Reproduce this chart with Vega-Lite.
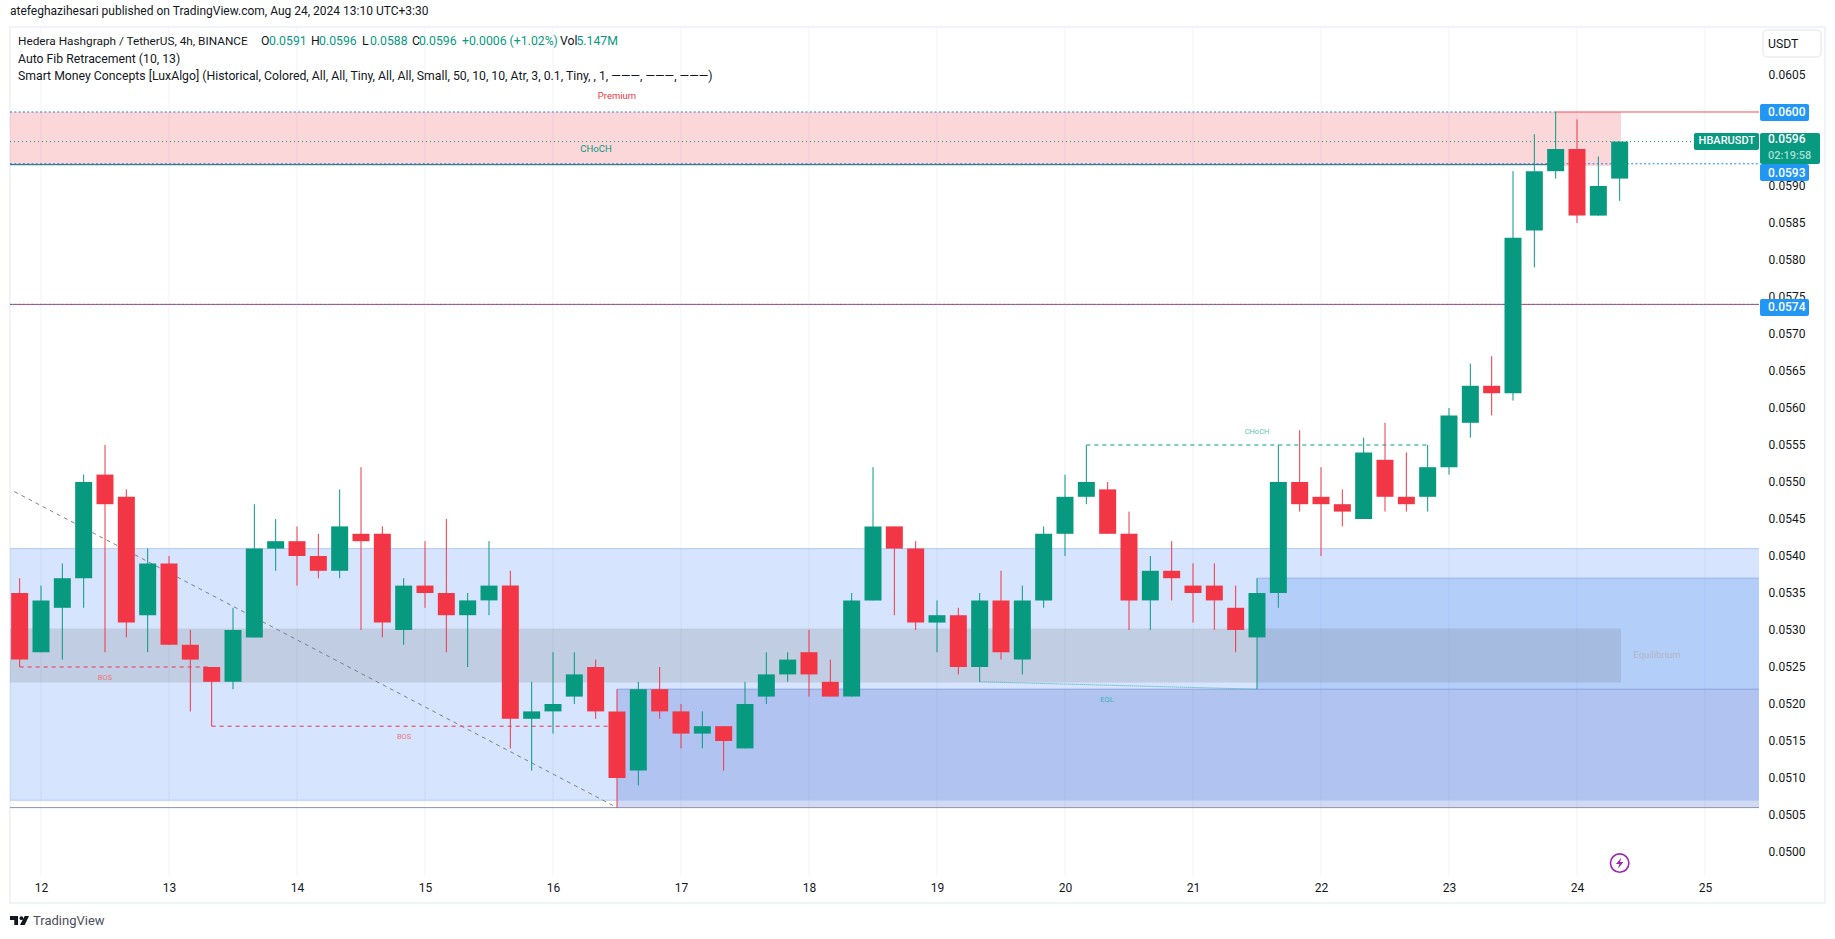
{
"$schema":"https://vega.github.io/schema/vega-lite/v6.json",
"width":1815,"height":876,"autosize":"none",
"padding":{"left":10,"top":27,"right":10,"bottom":36},
"background":"#ffffff",
"view":{"stroke":"#f0f3fa","strokeWidth":2},
"title":{"text":"atefeghazihesari published on TradingView.com, Aug 24, 2024 13:10 UTC+3:30","anchor":"start","frame":"group","offset":9,"font":"Roboto","fontSize":12,"fontWeight":"normal","color":"#131722"},
"config":{"font":"Roboto","text":{"font":"Roboto"}},
"datasets":{
"candles":[
{"t":"2024-08-11T20:00:00Z","o":0.0535,"h":0.0537,"l":0.0525,"c":0.0526},
{"t":"2024-08-12T00:00:00Z","o":0.0527,"h":0.0536,"l":0.0527,"c":0.0534},
{"t":"2024-08-12T04:00:00Z","o":0.0533,"h":0.0539,"l":0.0526,"c":0.0537},
{"t":"2024-08-12T08:00:00Z","o":0.0537,"h":0.0551,"l":0.0533,"c":0.0550},
{"t":"2024-08-12T12:00:00Z","o":0.0551,"h":0.0555,"l":0.0527,"c":0.0547},
{"t":"2024-08-12T16:00:00Z","o":0.0548,"h":0.0549,"l":0.0529,"c":0.0531},
{"t":"2024-08-12T20:00:00Z","o":0.0532,"h":0.0541,"l":0.0527,"c":0.0539},
{"t":"2024-08-13T00:00:00Z","o":0.0539,"h":0.0540,"l":0.0528,"c":0.0528},
{"t":"2024-08-13T04:00:00Z","o":0.0528,"h":0.0530,"l":0.0519,"c":0.0526},
{"t":"2024-08-13T08:00:00Z","o":0.0525,"h":0.0525,"l":0.0517,"c":0.0523},
{"t":"2024-08-13T12:00:00Z","o":0.0523,"h":0.0533,"l":0.0522,"c":0.0530},
{"t":"2024-08-13T16:00:00Z","o":0.0529,"h":0.0547,"l":0.0529,"c":0.0541},
{"t":"2024-08-13T20:00:00Z","o":0.0541,"h":0.0545,"l":0.0538,"c":0.0542},
{"t":"2024-08-14T00:00:00Z","o":0.0542,"h":0.0544,"l":0.0536,"c":0.0540},
{"t":"2024-08-14T04:00:00Z","o":0.0540,"h":0.0543,"l":0.0537,"c":0.0538},
{"t":"2024-08-14T08:00:00Z","o":0.0538,"h":0.0549,"l":0.0537,"c":0.0544},
{"t":"2024-08-14T12:00:00Z","o":0.0543,"h":0.0552,"l":0.0530,"c":0.0542},
{"t":"2024-08-14T16:00:00Z","o":0.0543,"h":0.0544,"l":0.0529,"c":0.0531},
{"t":"2024-08-14T20:00:00Z","o":0.0530,"h":0.0537,"l":0.0528,"c":0.0536},
{"t":"2024-08-15T00:00:00Z","o":0.0536,"h":0.0542,"l":0.0533,"c":0.0535},
{"t":"2024-08-15T04:00:00Z","o":0.0535,"h":0.0545,"l":0.0527,"c":0.0532},
{"t":"2024-08-15T08:00:00Z","o":0.0532,"h":0.0535,"l":0.0525,"c":0.0534},
{"t":"2024-08-15T12:00:00Z","o":0.0534,"h":0.0542,"l":0.0532,"c":0.0536},
{"t":"2024-08-15T16:00:00Z","o":0.0536,"h":0.0538,"l":0.0514,"c":0.0518},
{"t":"2024-08-15T20:00:00Z","o":0.0518,"h":0.0523,"l":0.0511,"c":0.0519},
{"t":"2024-08-16T00:00:00Z","o":0.0519,"h":0.0527,"l":0.0516,"c":0.0520},
{"t":"2024-08-16T04:00:00Z","o":0.0521,"h":0.0527,"l":0.0520,"c":0.0524},
{"t":"2024-08-16T08:00:00Z","o":0.0525,"h":0.0526,"l":0.0518,"c":0.0519},
{"t":"2024-08-16T12:00:00Z","o":0.0519,"h":0.0522,"l":0.0506,"c":0.0510},
{"t":"2024-08-16T16:00:00Z","o":0.0511,"h":0.0523,"l":0.0509,"c":0.0522},
{"t":"2024-08-16T20:00:00Z","o":0.0522,"h":0.0525,"l":0.0518,"c":0.0519},
{"t":"2024-08-17T00:00:00Z","o":0.0519,"h":0.0520,"l":0.0514,"c":0.0516},
{"t":"2024-08-17T04:00:00Z","o":0.0516,"h":0.0519,"l":0.0514,"c":0.0517},
{"t":"2024-08-17T08:00:00Z","o":0.0517,"h":0.0517,"l":0.0511,"c":0.0515},
{"t":"2024-08-17T12:00:00Z","o":0.0514,"h":0.0523,"l":0.0514,"c":0.0520},
{"t":"2024-08-17T16:00:00Z","o":0.0521,"h":0.0527,"l":0.0520,"c":0.0524},
{"t":"2024-08-17T20:00:00Z","o":0.0524,"h":0.0527,"l":0.0523,"c":0.0526},
{"t":"2024-08-18T00:00:00Z","o":0.0527,"h":0.0530,"l":0.0521,"c":0.0524},
{"t":"2024-08-18T04:00:00Z","o":0.0523,"h":0.0526,"l":0.0521,"c":0.0521},
{"t":"2024-08-18T08:00:00Z","o":0.0521,"h":0.0535,"l":0.0521,"c":0.0534},
{"t":"2024-08-18T12:00:00Z","o":0.0534,"h":0.0552,"l":0.0534,"c":0.0544},
{"t":"2024-08-18T16:00:00Z","o":0.0544,"h":0.0544,"l":0.0532,"c":0.0541},
{"t":"2024-08-18T20:00:00Z","o":0.0541,"h":0.0542,"l":0.0530,"c":0.0531},
{"t":"2024-08-19T00:00:00Z","o":0.0531,"h":0.0534,"l":0.0527,"c":0.0532},
{"t":"2024-08-19T04:00:00Z","o":0.0532,"h":0.0533,"l":0.0524,"c":0.0525},
{"t":"2024-08-19T08:00:00Z","o":0.0525,"h":0.0535,"l":0.0523,"c":0.0534},
{"t":"2024-08-19T12:00:00Z","o":0.0534,"h":0.0538,"l":0.0526,"c":0.0527},
{"t":"2024-08-19T16:00:00Z","o":0.0526,"h":0.0536,"l":0.0524,"c":0.0534},
{"t":"2024-08-19T20:00:00Z","o":0.0534,"h":0.0544,"l":0.0533,"c":0.0543},
{"t":"2024-08-20T00:00:00Z","o":0.0543,"h":0.0551,"l":0.0540,"c":0.0548},
{"t":"2024-08-20T04:00:00Z","o":0.0548,"h":0.0555,"l":0.0547,"c":0.0550},
{"t":"2024-08-20T08:00:00Z","o":0.0549,"h":0.0550,"l":0.0543,"c":0.0543},
{"t":"2024-08-20T12:00:00Z","o":0.0543,"h":0.0546,"l":0.0530,"c":0.0534},
{"t":"2024-08-20T16:00:00Z","o":0.0534,"h":0.0540,"l":0.0530,"c":0.0538},
{"t":"2024-08-20T20:00:00Z","o":0.0538,"h":0.0542,"l":0.0534,"c":0.0537},
{"t":"2024-08-21T00:00:00Z","o":0.0536,"h":0.0539,"l":0.0531,"c":0.0535},
{"t":"2024-08-21T04:00:00Z","o":0.0536,"h":0.0539,"l":0.0530,"c":0.0534},
{"t":"2024-08-21T08:00:00Z","o":0.0533,"h":0.0536,"l":0.0527,"c":0.0530},
{"t":"2024-08-21T12:00:00Z","o":0.0529,"h":0.0537,"l":0.0522,"c":0.0535},
{"t":"2024-08-21T16:00:00Z","o":0.0535,"h":0.0555,"l":0.0533,"c":0.0550},
{"t":"2024-08-21T20:00:00Z","o":0.0550,"h":0.0557,"l":0.0546,"c":0.0547},
{"t":"2024-08-22T00:00:00Z","o":0.0548,"h":0.0552,"l":0.0540,"c":0.0547},
{"t":"2024-08-22T04:00:00Z","o":0.0547,"h":0.0549,"l":0.0544,"c":0.0546},
{"t":"2024-08-22T08:00:00Z","o":0.0545,"h":0.0556,"l":0.0545,"c":0.0554},
{"t":"2024-08-22T12:00:00Z","o":0.0553,"h":0.0558,"l":0.0546,"c":0.0548},
{"t":"2024-08-22T16:00:00Z","o":0.0548,"h":0.0554,"l":0.0546,"c":0.0547},
{"t":"2024-08-22T20:00:00Z","o":0.0548,"h":0.0555,"l":0.0546,"c":0.0552},
{"t":"2024-08-23T00:00:00Z","o":0.0552,"h":0.0560,"l":0.0551,"c":0.0559},
{"t":"2024-08-23T04:00:00Z","o":0.0558,"h":0.0566,"l":0.0556,"c":0.0563},
{"t":"2024-08-23T08:00:00Z","o":0.0563,"h":0.0567,"l":0.0559,"c":0.0562},
{"t":"2024-08-23T12:00:00Z","o":0.0562,"h":0.0592,"l":0.0561,"c":0.0583},
{"t":"2024-08-23T16:00:00Z","o":0.0584,"h":0.0597,"l":0.0579,"c":0.0592},
{"t":"2024-08-23T20:00:00Z","o":0.0592,"h":0.0600,"l":0.0591,"c":0.0595},
{"t":"2024-08-24T00:00:00Z","o":0.0595,"h":0.0599,"l":0.0585,"c":0.0586},
{"t":"2024-08-24T04:00:00Z","o":0.0586,"h":0.0594,"l":0.0586,"c":0.0590},
{"t":"2024-08-24T08:00:00Z","o":0.0591,"h":0.0596,"l":0.0588,"c":0.0596}
],
"gridx":[
{"t":"2024-08-12T00:00:00Z"},{"t":"2024-08-13T00:00:00Z"},{"t":"2024-08-14T00:00:00Z"},{"t":"2024-08-15T00:00:00Z"},{"t":"2024-08-16T00:00:00Z"},{"t":"2024-08-17T00:00:00Z"},{"t":"2024-08-18T00:00:00Z"},{"t":"2024-08-19T00:00:00Z"},{"t":"2024-08-20T00:00:00Z"},{"t":"2024-08-21T00:00:00Z"},{"t":"2024-08-22T00:00:00Z"},{"t":"2024-08-23T00:00:00Z"},{"t":"2024-08-24T00:00:00Z"},{"t":"2024-08-25T00:00:00Z"}
],
"gridy":[
{"p":0.0500},{"p":0.0505},{"p":0.0510},{"p":0.0515},{"p":0.0520},{"p":0.0525},{"p":0.0530},{"p":0.0535},{"p":0.0540},{"p":0.0545},{"p":0.0550},{"p":0.0555},{"p":0.0560},{"p":0.0565},{"p":0.0570},{"p":0.0575},{"p":0.0580},{"p":0.0585},{"p":0.0590},{"p":0.0595},{"p":0.0600},{"p":0.0605}
],
"zones":[
{"zone":"discount","t":"2024-08-11T18:11:15Z","t2":"2024-08-25T10:07:30Z","p":0.0541,"p2":0.0507},
{"zone":"block","t":"2024-08-21T12:00:00Z","t2":"2024-08-25T10:07:30Z","p":0.0537,"p2":0.0522},
{"zone":"low","t":"2024-08-16T12:00:00Z","t2":"2024-08-25T10:07:30Z","p":0.0522,"p2":0.0506},
{"zone":"equilibrium","t":"2024-08-11T18:11:15Z","t2":"2024-08-24T08:15:00Z","p":0.05302,"p2":0.05229},
{"zone":"premium","t":"2024-08-11T18:11:15Z","t2":"2024-08-24T08:15:00Z","p":0.0600,"p2":0.05927}
],
"lines":[
{"kind":"edge1","t":"2024-08-11T18:11:15Z","t2":"2024-08-25T10:07:30Z","p":0.0541,"p2":0.0541},
{"kind":"edge1","t":"2024-08-11T18:11:15Z","t2":"2024-08-25T10:07:30Z","p":0.0507,"p2":0.0507},
{"kind":"edge2","t":"2024-08-21T12:00:00Z","t2":"2024-08-25T10:07:30Z","p":0.0537,"p2":0.0537},
{"kind":"edge3","t":"2024-08-16T12:00:00Z","t2":"2024-08-25T10:07:30Z","p":0.0522,"p2":0.0522},
{"kind":"floor","t":"2024-08-11T18:11:15Z","t2":"2024-08-25T10:07:30Z","p":0.0506,"p2":0.0506},
{"kind":"diag","t":"2024-08-11T19:00:00Z","t2":"2024-08-16T12:00:00Z","p":0.05487,"p2":0.0506},
{"kind":"bos","t":"2024-08-11T20:00:00Z","t2":"2024-08-13T08:00:00Z","p":0.0525,"p2":0.0525},
{"kind":"bos","t":"2024-08-13T08:00:00Z","t2":"2024-08-16T12:00:00Z","p":0.0517,"p2":0.0517},
{"kind":"choch","t":"2024-08-20T04:00:00Z","t2":"2024-08-22T20:00:00Z","p":0.0555,"p2":0.0555},
{"kind":"eql","t":"2024-08-19T08:00:00Z","t2":"2024-08-21T12:00:00Z","p":0.0523,"p2":0.0522},
{"kind":"tealsolid","t":"2024-08-11T18:11:15Z","t2":"2024-08-23T20:00:00Z","p":0.05929,"p2":0.05929},
{"kind":"reds","t":"2024-08-23T20:00:00Z","t2":"2024-08-25T10:07:30Z","p":0.0600,"p2":0.0600},
{"kind":"reds","t":"2024-08-11T18:11:15Z","t2":"2024-08-25T10:07:30Z","p":0.0574,"p2":0.0574},
{"kind":"bluedot","t":"2024-08-11T18:11:15Z","t2":"2024-08-23T20:00:00Z","p":0.0600,"p2":0.0600},
{"kind":"bluedot","t":"2024-08-11T18:11:15Z","t2":"2024-08-25T10:07:30Z","p":0.0593,"p2":0.0593},
{"kind":"bluedot","t":"2024-08-11T18:11:15Z","t2":"2024-08-25T10:07:30Z","p":0.0574,"p2":0.0574},
{"kind":"last","t":"2024-08-11T18:11:15Z","t2":"2024-08-24T21:56:00Z","p":0.0596,"p2":0.0596}
],
"boxes":[
{"box":"green","t":"2024-08-25T10:19:00Z","t2":"2024-08-25T21:34:00Z","p":0.059716,"p2":0.059297},
{"box":"green","t":"2024-08-24T21:56:00Z","t2":"2024-08-25T10:07:30Z","p":0.059716,"p2":0.059486},
{"box":"blue","t":"2024-08-25T10:19:00Z","t2":"2024-08-25T19:30:00Z","p":0.060108,"p2":0.059878},
{"box":"blue","t":"2024-08-25T10:19:00Z","t2":"2024-08-25T19:30:00Z","p":0.059297,"p2":0.059068},
{"box":"blue","t":"2024-08-25T10:19:00Z","t2":"2024-08-25T19:30:00Z","p":0.057473,"p2":0.057243}
],
"button":[{"t":"2024-08-25T10:52:00Z","t2":"2024-08-25T21:45:00Z","p":0.061108,"p2":0.060743}],
"boxtext":[
{"kind":"w","label":"0.0600","t":"2024-08-25T11:49:00Z","p":0.0600},
{"kind":"w","label":"0.0593","t":"2024-08-25T11:49:00Z","p":0.05918},
{"kind":"w","label":"0.0574","t":"2024-08-25T11:49:00Z","p":0.05736},
{"kind":"w","label":"0.0596","t":"2024-08-25T11:49:00Z","p":0.05963},
{"kind":"f","label":"02:19:58","t":"2024-08-25T11:49:00Z","p":0.05941},
{"kind":"w","label":"HBARUSDT","t":"2024-08-24T22:48:00Z","p":0.05961}
],
"header":[
{"kind":"dark","label":"Hedera Hashgraph / TetherUS, 4h, BINANCE","t":"2024-08-11T19:41:00Z","p":0.06096},
{"kind":"dark","label":"O","t":"2024-08-13T17:15:00Z","p":0.06096},
{"kind":"green","label":"0.0591","t":"2024-08-13T18:45:00Z","p":0.06096},
{"kind":"dark","label":"H","t":"2024-08-14T02:38:00Z","p":0.06096},
{"kind":"green","label":"0.0596","t":"2024-08-14T04:08:00Z","p":0.06096},
{"kind":"dark","label":"L","t":"2024-08-14T12:11:00Z","p":0.06096},
{"kind":"green","label":"0.0588","t":"2024-08-14T13:41:00Z","p":0.06096},
{"kind":"dark","label":"C","t":"2024-08-14T21:34:00Z","p":0.06096},
{"kind":"green","label":"0.0596","t":"2024-08-14T22:52:00Z","p":0.06096},
{"kind":"green","label":"+0.0006 (+1.02%)","t":"2024-08-15T06:56:00Z","p":0.06096},
{"kind":"dark","label":"Vol","t":"2024-08-16T01:19:00Z","p":0.06096},
{"kind":"green","label":"5.147M","t":"2024-08-16T04:24:00Z","p":0.06096},
{"kind":"dark","label":"Auto Fib Retracement (10, 13)","t":"2024-08-11T19:41:00Z","p":0.06072},
{"kind":"dark","label":"Smart Money Concepts [LuxAlgo] (Historical, Colored, All, All, Tiny, All, All, Small, 50, 10, 10, Atr, 3, 0.1, Tiny, , 1, ———, ———, ———)","t":"2024-08-11T19:41:00Z","p":0.06049},
{"kind":"dark","label":"USDT","t":"2024-08-25T11:49:00Z","p":0.060925}
],
"notes":[
{"kind":"premium","label":"Premium","t":"2024-08-16T12:00:00Z","p":0.060216},
{"kind":"choch1","label":"CHoCH","t":"2024-08-16T08:04:00Z","p":0.0595},
{"kind":"bos","label":"BOS","t":"2024-08-12T12:00:00Z","p":0.05235},
{"kind":"bos","label":"BOS","t":"2024-08-14T20:04:00Z","p":0.05155},
{"kind":"choch2","label":"CHoCH","t":"2024-08-21T12:00:00Z","p":0.05568},
{"kind":"eql","label":"EQL","t":"2024-08-20T07:53:00Z","p":0.05205},
{"kind":"equil","label":"Equilibrium","t":"2024-08-24T15:00:00Z","p":0.05266}
],
"footer":[{"label":"TradingView","t":"2024-08-11T22:30:00Z","p":0.04907}],
"logo":[{"t":"2024-08-11T19:58:00Z","p":0.049074}],
"icon":[{"t":"2024-08-24T08:00:00Z","p":0.04985}]
},
"encoding":{
"x":{"field":"t","type":"temporal","title":null,"scale":{"type":"utc","padding":0,"domain":["2024-08-11T18:11:15Z","2024-08-25T22:30:00Z"]},"axis":{"format":"%-d","tickCount":{"interval":"day","step":1},"domain":false,"ticks":false,"tickSize":0,"grid":false,"labelPadding":-21,"labelFontSize":12,"labelFont":"Roboto","labelColor":"#131722","labelOverlap":false,"labelFlush":false,"title":null}},
"y":{"field":"p","type":"quantitative","title":null,"scale":{"domain":[0.0493108,0.0611486],"nice":false,"zero":false,"padding":0},"axis":{"orient":"right","values":[0.05,0.0505,0.051,0.0515,0.052,0.0525,0.053,0.0535,0.054,0.0545,0.055,0.0555,0.056,0.0565,0.057,0.0575,0.058,0.0585,0.059,0.0595,0.06,0.0605],"format":".4f","domain":false,"ticks":false,"tickSize":0,"grid":false,"labelPadding":-57,"labelAlign":"left","labelFontSize":12,"labelFont":"Roboto","labelColor":"#131722","labelOverlap":false,"labelFlush":false,"title":null}}
},
"resolve":{"scale":{"color":"independent","strokeDash":"independent"}},
"layer":[
{"data":{"name":"gridx"},"transform":[{"calculate":"0.0611486","as":"p"},{"calculate":"0.049676","as":"p2"}],"mark":{"type":"rule","color":"#f0f3fa","strokeWidth":1},"encoding":{"y2":{"field":"p2"}}},
{"data":{"name":"gridy"},"transform":[{"calculate":"'2024-08-11T18:11:15Z'","as":"t"},{"calculate":"'2024-08-25T10:07:30Z'","as":"t2"}],"mark":{"type":"rule","color":"#f0f3fa","strokeWidth":1},"encoding":{"x2":{"field":"t2"}}},
{"data":{"name":"zones"},"mark":{"type":"rect"},"encoding":{"x2":{"field":"t2"},"y2":{"field":"p2"},"color":{"field":"zone","type":"nominal","legend":null,"scale":{"domain":["discount","block","low","equilibrium","premium"],"range":["rgba(50,120,245,0.2)","rgba(44,118,238,0.2)","rgba(24,63,193,0.2)","rgba(120,123,134,0.22)","rgba(242,54,69,0.2)"]}}}},
{"data":{"name":"lines"},"mark":{"type":"rule","strokeWidth":1},"encoding":{"x2":{"field":"t2"},"y2":{"field":"p2"},
"color":{"field":"kind","type":"nominal","legend":null,"scale":{"domain":["edge1","edge2","edge3","floor","diag","bos","choch","eql","tealsolid","reds","bluedot","last"],"range":["#b3cbf7","#92b4ee","#8aa2dc","#8f92ae","#7d808a","#f23645","#089981","#3fb0b8","#0f8a86","#f23645","#1f7fe8","#089981"]}},
"strokeDash":{"field":"kind","type":"nominal","legend":null,"scale":{"domain":["edge1","edge2","edge3","floor","diag","bos","choch","eql","tealsolid","reds","bluedot","last"],"range":[[1,0],[1,0],[1,0],[1,0],[4,4],[4,4],[4,4],[1,1],[1,0],[1,0],[2,2.3],[1,3]]}},
"strokeWidth":{"condition":{"test":"datum.kind==='bluedot'||datum.kind==='floor'","value":2},"value":1}}},
{"data":{"name":"candles"},"mark":{"type":"rule","strokeWidth":1},"encoding":{"y":{"field":"l","type":"quantitative"},"y2":{"field":"h"},"color":{"condition":{"test":"datum.c>=datum.o","value":"#089981"},"value":"#f23645"}}},
{"data":{"name":"candles"},"mark":{"type":"bar","size":17},"encoding":{"y":{"field":"o","type":"quantitative"},"y2":{"field":"c"},"color":{"condition":{"test":"datum.c>=datum.o","value":"#089981"},"value":"#f23645"}}},
{"data":{"name":"boxes"},"mark":{"type":"rect","cornerRadius":2},"encoding":{"x2":{"field":"t2"},"y2":{"field":"p2"},"color":{"field":"box","type":"nominal","legend":null,"scale":{"domain":["green","blue"],"range":["#089981","#2196f3"]}}}},
{"data":{"name":"button"},"mark":{"type":"rect","cornerRadius":4,"fill":"#ffffff","stroke":"#e0e3eb","strokeWidth":1},"encoding":{"x2":{"field":"t2"},"y2":{"field":"p2"}}},
{"data":{"name":"boxtext"},"mark":{"type":"text","align":"left","baseline":"middle","fontWeight":500},"encoding":{"text":{"field":"label"},"size":{"condition":{"test":"datum.label==='HBARUSDT'||datum.kind==='f'","value":11},"value":12},"color":{"field":"kind","type":"nominal","legend":null,"scale":{"domain":["w","f"],"range":["#ffffff","#a8dfd4"]}}}},
{"data":{"name":"header"},"mark":{"type":"text","align":"left","baseline":"middle"},"encoding":{"text":{"field":"label"},"size":{"condition":{"test":"indexof(datum.label,'Hedera')===0","value":11.8},"value":12.25},"color":{"field":"kind","type":"nominal","legend":null,"scale":{"domain":["dark","green"],"range":["#131722","#089981"]}}}},
{"data":{"name":"notes"},"mark":{"type":"text","align":"center","baseline":"middle"},"encoding":{"text":{"field":"label"},"size":{"condition":{"test":"datum.kind==='bos'||datum.kind==='choch2'||datum.kind==='eql'","value":7.5},"value":9.5},"color":{"field":"kind","type":"nominal","legend":null,"scale":{"domain":["premium","choch1","bos","choch2","eql","equil"],"range":["#f23645","#089981","#ef7480","#62c5b3","#3fb0b8","#b3b5bf"]}}}},
{"data":{"name":"footer"},"mark":{"type":"text","align":"left","baseline":"middle","fontSize":13,"color":"#4a4e5a"},"encoding":{"text":{"field":"label"}}},
{"data":{"name":"logo"},"mark":{"type":"point","filled":true,"size":361,"color":"#131722","opacity":1,"shape":"M-1,-0.47 L-0.15,-0.47 L-0.15,0.47 L-0.55,0.47 L-0.55,-0.05 L-1,-0.05 Z M0,-0.25 A0.2,0.2 0 1 1 0.4,-0.25 A0.2,0.2 0 1 1 0,-0.25 Z M0.55,-0.47 L1,-0.47 L0.55,0.47 L0.05,0.47 Z"}},
{"data":{"name":"icon"},"mark":{"type":"point","shape":"circle","size":340,"stroke":"#9c27b0","strokeWidth":1.6,"fill":"#ffffff","opacity":1,"fillOpacity":1}},
{"data":{"name":"icon"},"mark":{"type":"point","filled":true,"size":130,"color":"#9c27b0","opacity":1,"shape":"M0.3,-1 L-0.65,0.15 L-0.05,0.15 L-0.3,1 L0.65,-0.2 L0.05,-0.2 Z"}}
]
}
